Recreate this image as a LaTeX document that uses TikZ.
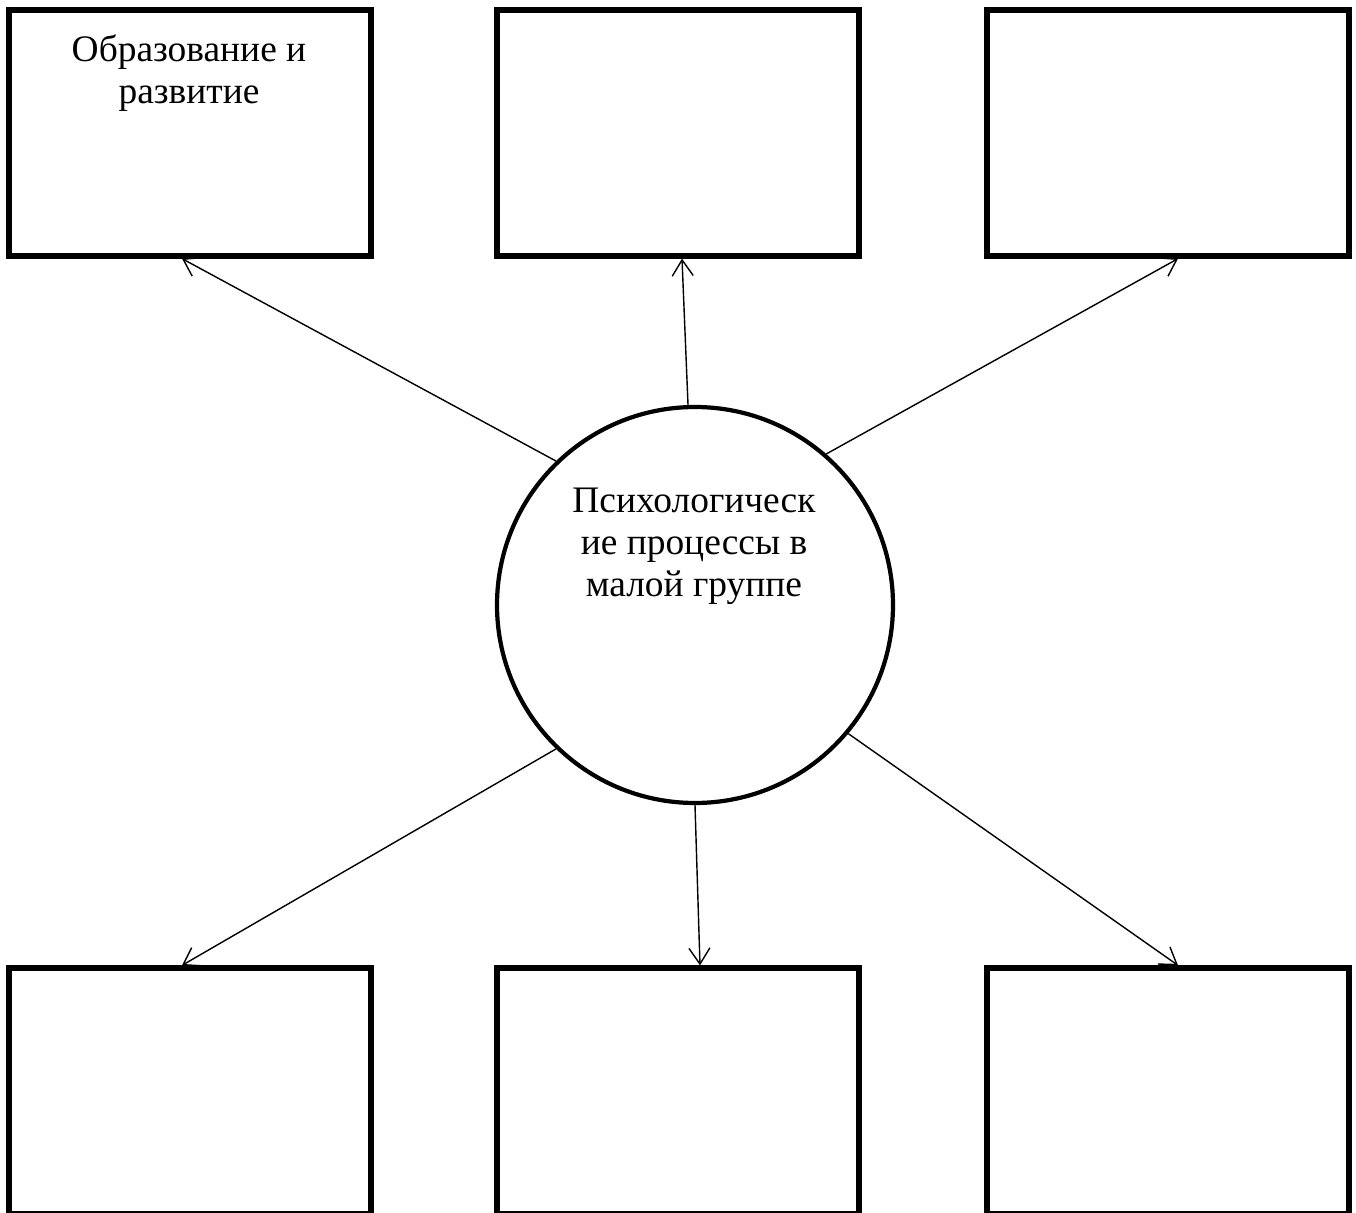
\documentclass[tikz,border=0pt]{standalone}
\usepackage{fontspec}
\setmainfont{Liberation Serif}
\usetikzlibrary{arrows.meta}

\begin{document}
\begin{tikzpicture}

\tikzset{drawbox/.style={draw, line width=3pt, rectangle, minimum height=4.92cm, minimum width=7.24cm}}
\tikzset{drawtext/.style={align=center, font=\fontsize{21.3}{24}\selectfont, inner sep=0pt}}
\tikzset{drawline/.style={line width=0.8pt, -{Straight Barb[length=3.2mm, width=4.2mm]}}}

\useasboundingbox (0, 0) rectangle (27.12, -24.26);

% top row
\node[drawbox] at ( 3.80, -2.66) (ed) {};
\node[drawbox] at (13.56, -2.66) (tm) {};
\node[drawbox] at (23.36, -2.66) (tr) {};
\node[drawtext, anchor=north] at (3.78, -0.68) (edtext) {Образование и\\развитие};

% bottom row
\node[drawbox] at ( 3.80, -21.82) (bl) {};
\node[drawbox] at (13.56, -21.82) (bm) {};
\node[drawbox] at (23.36, -21.82) (br) {};

% centre
\node[draw, circle, line width=2.4pt, minimum size=7.92cm] at (13.90, -12.10) (grp) {};
\node[drawtext] at (13.88, -10.92) (grptext) {Психологическ\\ие процессы в\\малой группе};

% arrows
\draw[drawline] (grp.134) -- ([xshift=-0.16cm]ed.south);
\draw[drawline] (grp.92.6) -- ([xshift=0.08cm]tm.south);
\draw[drawline] (grp.49) -- ([xshift=0.20cm]tr.south);
\draw[drawline] (grp.226) -- ([xshift=-0.16cm]bl.north);
\draw[drawline] (grp.270.6) -- ([xshift=0.44cm]bm.north);
\draw[drawline] (grp.320) -- ([xshift=0.20cm]br.north);

\end{tikzpicture}
\end{document}
